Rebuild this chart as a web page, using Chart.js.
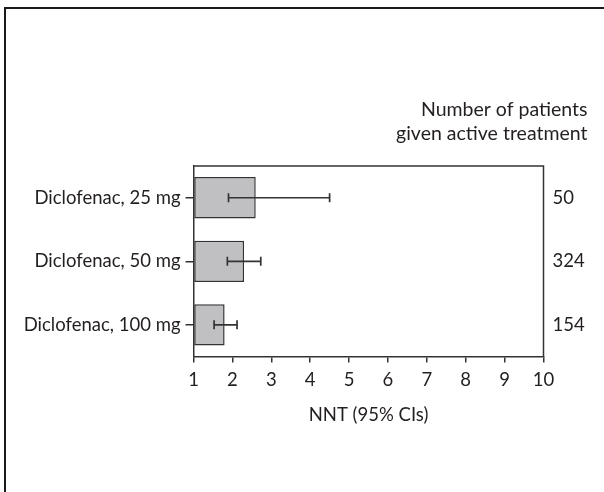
<!DOCTYPE html>
<html>
<head>
<meta charset="utf-8">
<script src="https://cdn.jsdelivr.net/npm/chart.js@4"></script>
<style>
  html, body { margin: 0; padding: 0; background: #fff; }
  #wrap { width: 604px; height: 492px; }
</style>
</head>
<body>
<div id="wrap"><canvas id="chart1"></canvas></div>
<script>
const categories = ['Diclofenac, 25 mg', 'Diclofenac, 50 mg', 'Diclofenac, 100 mg'];
const nnt = [2.6, 2.3, 1.8];
const ciLow = [1.9, 1.87, 1.53];
const ciHigh = [4.5, 2.73, 2.12];
const patients = ['50', '324', '154'];
const patientsHeader = ['Number of patients', 'given active treatment'];
const xTitle = 'NNT (95% CIs)';

const ink = '#231f20';
const lineCol = '#333333';
const fontFamily = 'Lato, "Open Sans", sans-serif';

Chart.defaults.font.family = fontFamily;
Chart.defaults.font.size = 18.5;
Chart.defaults.color = ink;

// outer frame, box round the plot, error bars and the right-hand counts
const extras = {
  id: 'extras',
  afterDatasetsDraw(chart) {
    const ctx = chart.ctx;
    const a = chart.chartArea;
    const xs = chart.scales.x;
    const ys = chart.scales.y;
    ctx.save();

    ctx.strokeStyle = lineCol;
    ctx.lineWidth = 1.5;
    ctx.beginPath();
    ctx.moveTo(a.left, a.top);
    ctx.lineTo(a.right, a.top);
    ctx.lineTo(a.right, a.bottom);
    ctx.stroke();

    ctx.lineWidth = 1.7;
    nnt.forEach((v, i) => {
      const y = ys.getPixelForValue(i);
      const x1 = xs.getPixelForValue(ciLow[i]);
      const x2 = xs.getPixelForValue(ciHigh[i]);
      ctx.beginPath();
      ctx.moveTo(x1, y); ctx.lineTo(x2, y);
      ctx.moveTo(x1, y - 4.5); ctx.lineTo(x1, y + 4.5);
      ctx.moveTo(x2, y - 4.5); ctx.lineTo(x2, y + 4.5);
      ctx.stroke();
    });

    ctx.fillStyle = ink;
    ctx.font = '18.5px ' + fontFamily;
    ctx.textBaseline = 'middle';
    ctx.textAlign = 'left';
    patients.forEach((p, i) => {
      ctx.fillText(p, a.right + 9, ys.getPixelForValue(i));
    });
    ctx.font = '19.5px ' + fontFamily;
    ctx.textAlign = 'right';
    patientsHeader.forEach((t, i) => {
      ctx.fillText(t, a.right + 44, a.top - 56 + i * 23.5);
    });

    ctx.strokeStyle = '#1a1a1a';
    ctx.lineWidth = 2;
    ctx.beginPath();
    ctx.moveTo(5, chart.height);
    ctx.lineTo(5, 8);
    ctx.lineTo(chart.width, 8);
    ctx.stroke();
    ctx.restore();
  }
};

new Chart(
  document.getElementById('chart1'),
  {
    type: 'bar',
    data: {
      labels: categories,
      datasets: [
        {
          data: nnt,
          base: 1,
          backgroundColor: '#c0c0c2',
          borderColor: lineCol,
          borderWidth: 1.5,
          borderSkipped: false,
          categoryPercentage: 1,
          barPercentage: 0.65,
        }
      ]
    },
    options: {
      indexAxis: 'y',
      responsive: true,
      maintainAspectRatio: false,
      animation: false,
      layout: {
        padding: { top: 166, right: 60.5, bottom: 66, left: 0 }
      },
      plugins: {
        legend: { display: false },
        tooltip: { enabled: false },
      },
      scales: {
        x: {
          min: 1,
          max: 10,
          ticks: { stepSize: 1, padding: 6, color: ink },
          grid: {
            drawOnChartArea: false,
            drawTicks: true,
            tickLength: 6,
            color: lineCol,
            lineWidth: 1.5,
          },
          border: { color: lineCol, width: 1.5 },
          title: {
            display: true,
            text: xTitle,
            color: ink,
            padding: { top: 7, bottom: 0 },
          },
        },
        y: {
          ticks: { padding: 5, color: ink },
          grid: {
            offset: false,
            drawOnChartArea: false,
            drawTicks: true,
            tickLength: 8,
            color: lineCol,
            lineWidth: 1.5,
          },
          border: { color: lineCol, width: 1.5 },
          afterFit: (scale) => { scale.width = 193.5; },
        }
      }
    },
    plugins: [extras]
  }
);
</script>
</body>
</html>
